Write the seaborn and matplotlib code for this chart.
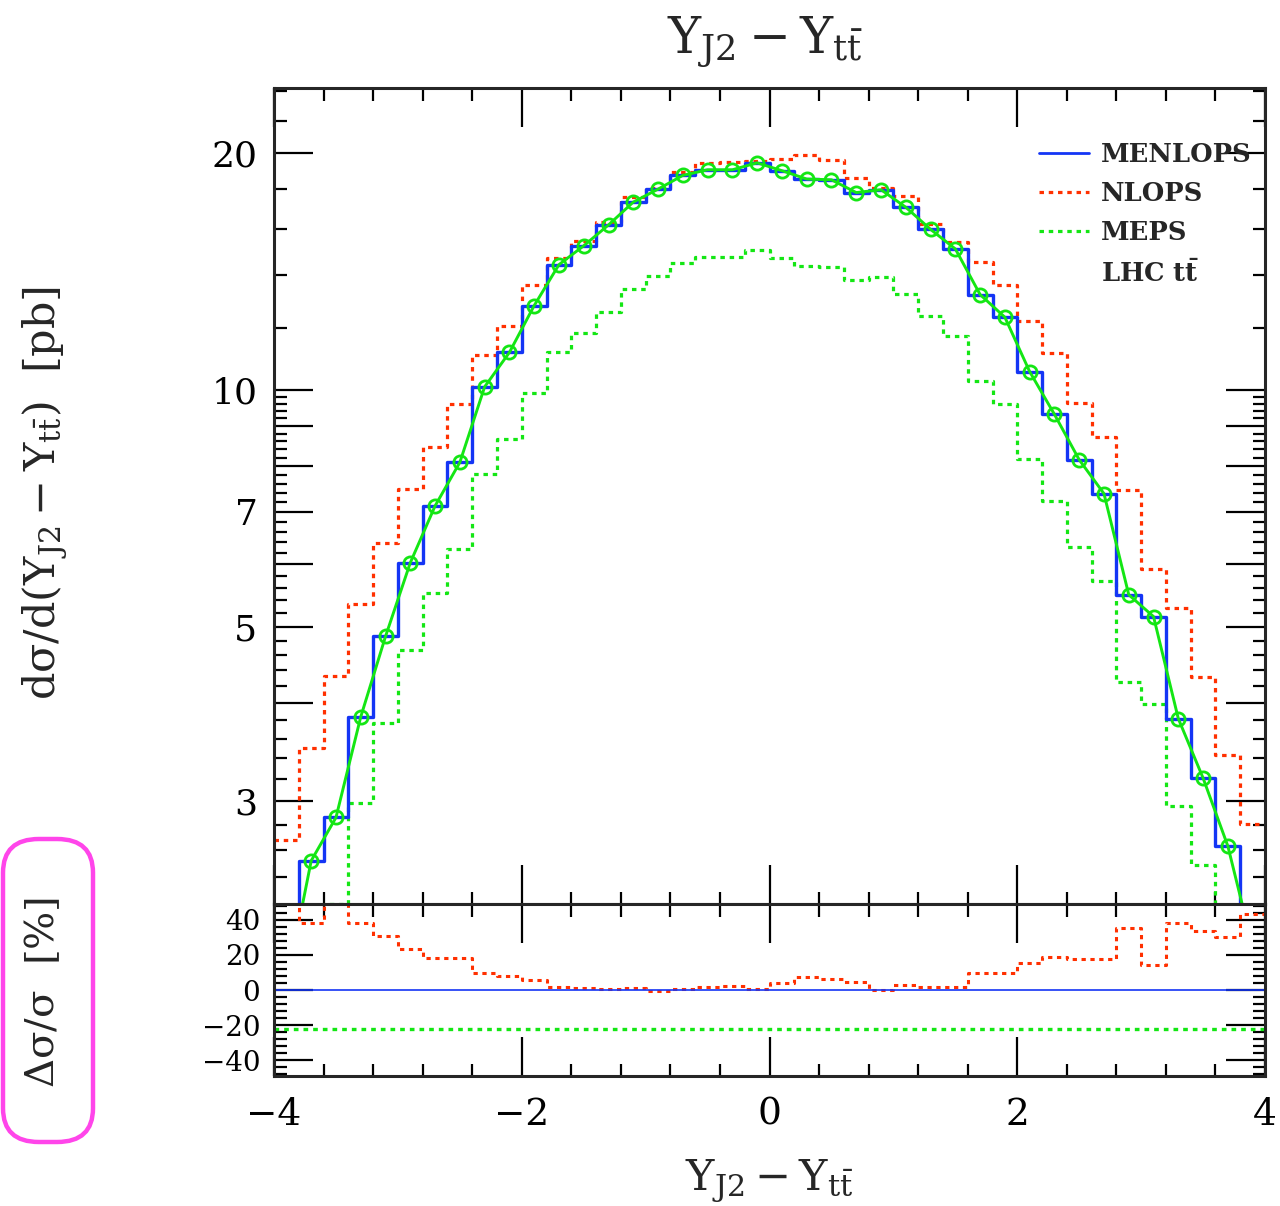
import numpy as np
import pandas as pd
import matplotlib
matplotlib.use("Agg")
import matplotlib.pyplot as plt
import seaborn as sns
from matplotlib.lines import Line2D
from matplotlib.patches import FancyBboxPatch
from matplotlib.ticker import FixedLocator, MultipleLocator, NullFormatter, FuncFormatter

# binning of Y_J2 - Y_ttbar
bin_edges = [round(v, 1) for v in np.linspace(-4.0, 4.0, 41)]
bin_centers = [round(0.5 * (a + b), 2) for a, b in zip(bin_edges[:-1], bin_edges[1:])]

# dsigma/dY [pb]
menlops = [1.75, 2.52, 2.86, 3.84, 4.86, 6.03, 7.12, 8.09, 10.09, 11.16,
           12.80, 14.43, 15.25, 16.21, 17.33, 18.00, 18.74, 19.05, 19.05, 19.44,
           19.00, 18.54, 18.50, 17.82, 17.97, 17.07, 16.00, 15.11, 13.22, 12.37,
           10.55, 9.31, 8.15, 7.38, 5.49, 5.15, 3.82, 3.21, 2.63, 1.96]
nlops = [2.68, 3.51, 4.33, 5.35, 6.39, 7.49, 8.46, 9.61, 11.08, 12.07,
         13.58, 14.70, 15.48, 16.37, 17.59, 18.05, 18.91, 19.44, 19.50, 19.55,
         19.68, 19.92, 19.63, 18.60, 18.06, 17.65, 16.25, 15.43, 14.53, 13.58,
         12.25, 11.13, 9.63, 8.71, 7.46, 5.92, 5.28, 4.31, 3.43, 2.81]
meps = [1.36, 1.95, 2.22, 2.98, 3.77, 4.67, 5.52, 6.27, 7.82, 8.65,
        9.92, 11.18, 11.82, 12.56, 13.43, 13.95, 14.52, 14.76, 14.76, 15.07,
        14.73, 14.37, 14.34, 13.81, 13.93, 13.23, 12.40, 11.71, 10.25, 9.59,
        8.18, 7.22, 6.32, 5.72, 4.25, 3.99, 2.96, 2.49, 2.04, 1.52]

# deviation from MENLOPS [%]
menlops_dev = [0.0] * 40
nlops_dev = [53.0, 38.3, 51.0, 38.3, 30.6, 23.2, 18.3, 18.3, 9.6, 7.7,
             5.7, 1.7, 0.9, 0.8, 1.1, -0.4, 0.6, 1.5, 2.1, 0.4,
             3.8, 7.2, 6.2, 4.3, 0.0, 2.8, 1.5, 1.9, 9.6, 9.6,
             15.5, 18.9, 17.6, 17.6, 35.1, 14.3, 38.0, 33.6, 30.2, 43.4]
meps_dev = [-22.5] * 40

BLUE = "#1435f5"
RED = "#ff3000"
GREEN = "#14e614"
MAGENTA = "#ff45ea"
DOTS = (0, (1.4, 1.5))


def step_hist(ax, values, color, lw, ls="-"):
    df = pd.DataFrame({"y": bin_centers, "w": values})
    sns.histplot(data=df, x="y", weights="w", bins=bin_edges, element="step",
                 fill=False, color=color, linewidth=lw, linestyle=ls, ax=ax)


sns.set_style("ticks")
plt.rcParams["font.family"] = ["DejaVu Serif"]
plt.rcParams["mathtext.fontset"] = "dejavuserif"

fig = plt.figure(figsize=(12.8, 12.06), dpi=100)
ax = fig.add_axes([0.2141, 0.2504, 0.7742, 0.6766])
axr = fig.add_axes([0.2141, 0.1078, 0.7742, 0.1426])

# --- main panel
step_hist(ax, nlops, RED, 2.3, DOTS)
step_hist(ax, meps, GREEN, 2.3, DOTS)
step_hist(ax, menlops, BLUE, 2.4)
sns.lineplot(x=bin_centers, y=menlops, color=GREEN, linewidth=2.1, marker="o",
             markersize=9.5, markerfacecolor="none", markeredgecolor=GREEN,
             markeredgewidth=2.0, ax=ax)

ax.set_yscale("log")
ax.set_xlim(-4, 4)
ax.set_ylim(2.22, 24.2)
ax.yaxis.set_major_locator(FixedLocator([3, 4, 5, 6, 7, 8, 9, 10, 20]))
ax.yaxis.set_major_formatter(FuncFormatter(lambda v, p: f"{v:g}" if round(v) in (3, 5, 7, 10, 20) else ""))
minor_y = [round(2.2 + 0.2 * k, 1) for k in range(40)]
minor_y = [v for v in minor_y if abs(v - round(v)) > 1e-6] + [12, 14, 16, 18, 22, 24]
ax.yaxis.set_minor_locator(FixedLocator(minor_y))
ax.yaxis.set_minor_formatter(NullFormatter())
ax.xaxis.set_major_locator(FixedLocator([-4, -2, 0, 2, 4]))
ax.xaxis.set_minor_locator(MultipleLocator(0.4))
ax.tick_params(axis="x", labelbottom=False)
ax.set_xlabel("")
ax.set_ylabel("")

handles = [Line2D([], [], color=BLUE, lw=2.0),
           Line2D([], [], color=RED, lw=2.3, ls=DOTS),
           Line2D([], [], color=GREEN, lw=2.3, ls=DOTS),
           Line2D([], [], color="none")]
labels = ["MENLOPS", "NLOPS", "MEPS", r"LHC $\mathbf{t\bar{t}}$"]
ax.legend(handles, labels, loc="upper left", bbox_to_anchor=(0.772, 0.934),
          frameon=False, borderpad=0, borderaxespad=0, handlelength=1.95,
          handletextpad=0.45, labelspacing=0.55,
          prop={"family": "DejaVu Serif", "weight": "bold", "size": 18.5})

# --- ratio panel
step_hist(axr, nlops_dev, RED, 2.2, DOTS)
step_hist(axr, meps_dev, GREEN, 2.4, DOTS)
step_hist(axr, menlops_dev, BLUE, 1.2)
axr.set_xlim(-4, 4)
axr.set_ylim(-49, 49)
axr.yaxis.set_major_locator(FixedLocator([-40, -20, 0, 20, 40]))
axr.yaxis.set_minor_locator(MultipleLocator(4))
axr.xaxis.set_major_locator(FixedLocator([-4, -2, 0, 2, 4]))
axr.xaxis.set_minor_locator(MultipleLocator(0.4))
axr.xaxis.set_major_formatter(FuncFormatter(lambda v, p: f"{v:g}".replace("-", "\u2212")))
axr.yaxis.set_major_formatter(FuncFormatter(lambda v, p: f"{v:g}".replace("-", "\u2212")))
axr.set_xlabel("")
axr.set_ylabel("")

for a in (ax, axr):
    a.tick_params(which="both", direction="in", top=True, right=True, width=1.6, colors="black")
    a.tick_params(which="major", length=28)
    a.tick_params(which="minor", length=9)
    for s in a.spines.values():
        s.set_linewidth(2.2)
        s.set_zorder(5)
ax.tick_params(axis="y", which="major", labelsize=26, pad=12)
axr.tick_params(axis="y", which="major", labelsize=20, pad=10)
axr.tick_params(axis="x", which="major", labelsize=27, pad=15)

# --- labels
fig.text(765 / 1280, 1 - 53 / 1206, r"$\mathrm{Y_{J2}-Y_{t\bar{t}}}$",
         ha="center", va="baseline", fontsize=36)
fig.text(769 / 1280, 1 - 1190 / 1206, r"$\mathrm{Y_{J2}-Y_{t\bar{t}}}$",
         ha="center", va="baseline", fontsize=31)
fig.text(45 / 1280, 1 - 493 / 1206, r"$\mathrm{d\sigma/d(Y_{J2}-Y_{t\bar{t}})\ \ [pb]}$",
         ha="center", va="center", rotation=90, fontsize=31)
fig.text(42 / 1280, 1 - 992 / 1206, r"$\mathrm{\Delta\sigma/\sigma\ \ [\%]}$",
         ha="center", va="center", rotation=90, fontsize=29)
fig.patches.append(FancyBboxPatch((3 / 1280, 1 - 1142 / 1206), 90 / 1280, 303 / 1206,
                                  boxstyle="round,pad=0,rounding_size=0.028",
                                  transform=fig.transFigure, fill=False,
                                  edgecolor=MAGENTA, linewidth=3.2))

fig.savefig("out.png", dpi=100)
